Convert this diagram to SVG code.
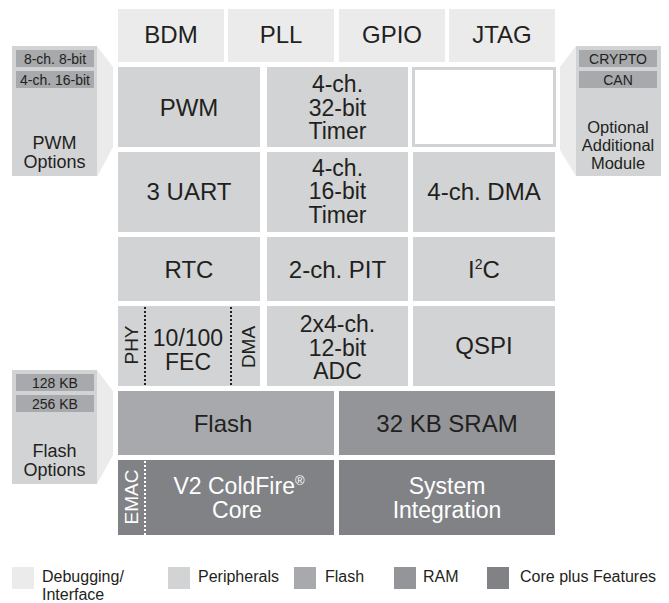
<svg xmlns="http://www.w3.org/2000/svg" width="669" height="603" viewBox="0 0 669 603">
<style>
text{font-family:"Liberation Sans",Arial,sans-serif;fill:#231f20;text-anchor:middle}
.dbg{fill:#ebebec}
.per{fill:#d1d3d4}
.fls{fill:#a7a9ac}
.ram{fill:#939598}
.core{fill:#808285}
.trap{fill:#ebebec}
.big{font-size:24px}
.ml{font-size:23px}
.opt{font-size:14px}
.optl{font-size:18px}
.rot{font-size:19px}
.leg{font-size:16px;text-anchor:start}
.w{fill:#ffffff}
.dotd{stroke:#231f20;stroke-width:2;stroke-dasharray:2 2;fill:none}
.dotw{stroke:#ffffff;stroke-width:2;stroke-dasharray:2 2;fill:none}
</style>
<rect width="669" height="603" fill="#ffffff"/>

<g id="connectors">
<polygon class="trap" points="97,46 113,67 113,147 97,177"/>
<polygon class="trap" points="97,370 113,391 113,455 97,484"/>
<polygon class="trap" points="576,46 560,67 560,150 576,176"/>
</g>

<g id="bdm"><rect class="dbg" x="118" y="9" width="106" height="53"/><text class="big" x="171" y="43">BDM</text></g>
<g id="pll"><rect class="dbg" x="228" y="9" width="106" height="53"/><text class="big" x="281" y="43">PLL</text></g>
<g id="gpio"><rect class="dbg" x="339" y="9" width="106" height="53"/><text class="big" x="392" y="43">GPIO</text></g>
<g id="jtag"><rect class="dbg" x="449" y="9" width="106" height="53"/><text class="big" x="502" y="43">JTAG</text></g>

<g id="pwm"><rect class="per" x="118" y="67" width="142" height="80"/><text class="big" x="189" y="116">PWM</text></g>
<g id="timer32"><rect class="per" x="267" y="67" width="141" height="80"/><text class="ml" x="337.5" y="92">4-ch.</text><text class="ml" x="337.5" y="115.5">32-bit</text><text class="ml" x="337.5" y="139">Timer</text></g>
<g id="optional-slot"><rect x="413.5" y="68.5" width="141" height="77" fill="#ffffff" stroke="#d1d3d4" stroke-width="3"/></g>

<g id="uart"><rect class="per" x="118" y="152" width="142" height="80"/><text class="big" x="189" y="200">3 UART</text></g>
<g id="timer16"><rect class="per" x="267" y="152" width="141" height="80"/><text class="ml" x="337.5" y="175.5">4-ch.</text><text class="ml" x="337.5" y="199">16-bit</text><text class="ml" x="337.5" y="222.5">Timer</text></g>
<g id="dma"><rect class="per" x="413" y="152" width="142" height="80"/><text class="big" x="484" y="200">4-ch. DMA</text></g>

<g id="rtc"><rect class="per" x="118" y="237" width="142" height="64"/><text class="big" x="189" y="278">RTC</text></g>
<g id="pit"><rect class="per" x="267" y="237" width="141" height="64"/><text class="big" x="337.5" y="278">2-ch. PIT</text></g>
<g id="i2c"><rect class="per" x="413" y="237" width="142" height="64"/><text class="big" x="484" y="278">I<tspan font-size="14" dy="-9">2</tspan><tspan dy="9">C</tspan></text></g>

<g id="fec"><rect class="per" x="118" y="306" width="142" height="80"/>
<line class="dotd" x1="145" y1="307" x2="145" y2="385"/>
<line class="dotd" x1="231" y1="307" x2="231" y2="385"/>
<text class="rot" transform="translate(137.5,345) rotate(-90)">PHY</text>
<text class="rot" transform="translate(254.5,347) rotate(-90)">DMA</text>
<text class="ml" x="188" y="346">10/100</text><text class="ml" x="188" y="370">FEC</text></g>
<g id="adc"><rect class="per" x="267" y="306" width="141" height="80"/><text class="ml" x="337.5" y="332">2x4-ch.</text><text class="ml" x="337.5" y="355.5">12-bit</text><text class="ml" x="337.5" y="379">ADC</text></g>
<g id="qspi"><rect class="per" x="413" y="306" width="142" height="80"/><text class="big" x="484" y="354">QSPI</text></g>

<g id="flash"><rect class="fls" x="118" y="391" width="216" height="64"/><text class="big" x="223" y="432">Flash</text></g>
<g id="sram"><rect class="ram" x="339" y="391" width="216" height="64"/><text class="big" x="447" y="432">32 KB SRAM</text></g>

<g id="core"><rect class="core" x="118" y="460" width="216" height="75"/>
<line class="dotw" x1="145" y1="461" x2="145" y2="535"/>
<text class="rot w" transform="translate(137.5,497) rotate(-90)">EMAC</text>
<text class="ml w" x="239" y="494">V2 ColdFire<tspan font-size="13" dy="-9">®</tspan></text><text class="ml w" x="237" y="517.5">Core</text></g>
<g id="sysint"><rect class="core" x="339" y="460" width="216" height="75"/><text class="ml w" x="447" y="494">System</text><text class="ml w" x="447" y="517.5">Integration</text></g>

<g id="pwm-options"><rect class="per" x="12" y="46" width="85" height="130"/>
<rect class="fls" x="16" y="50" width="78" height="17"/><text class="opt" x="55" y="63.5">8-ch. 8-bit</text>
<rect class="fls" x="16" y="71" width="78" height="17"/><text class="opt" x="55" y="84.5">4-ch. 16-bit</text>
<text class="optl" x="54.5" y="149">PWM</text><text class="optl" x="54.5" y="167.5">Options</text></g>

<g id="flash-options"><rect class="per" x="12" y="370" width="85" height="114"/>
<rect class="fls" x="16" y="374" width="78" height="17"/><text class="opt" x="55" y="387.5">128 KB</text>
<rect class="fls" x="16" y="395" width="78" height="17"/><text class="opt" x="55" y="408.5">256 KB</text>
<text class="optl" x="54.5" y="457">Flash</text><text class="optl" x="54.5" y="475.5">Options</text></g>

<g id="optional-module"><rect class="per" x="576" y="46" width="85" height="130"/>
<rect class="fls" x="579" y="50" width="78" height="17"/><text class="opt" x="618" y="63.5" font-size="13.5">CRYPTO</text>
<rect class="fls" x="579" y="71" width="78" height="17"/><text class="opt" x="618" y="84.5" font-size="13.5">CAN</text>
<text x="618" y="133" font-size="16.5">Optional</text><text x="618" y="151" font-size="16.5">Additional</text><text x="618" y="169" font-size="16.5">Module</text></g>

<g id="legend">
<rect class="dbg" x="12" y="567" width="22" height="22"/><text class="leg" x="42" y="582">Debugging/</text><text class="leg" x="42" y="600">Interface</text>
<rect class="per" x="168" y="567" width="22" height="22"/><text class="leg" x="198" y="582">Peripherals</text>
<rect class="fls" x="294" y="567" width="22" height="22"/><text class="leg" x="325" y="582">Flash</text>
<rect class="ram" x="394" y="567" width="22" height="22"/><text class="leg" x="423" y="582">RAM</text>
<rect class="core" x="487" y="567" width="22" height="22"/><text class="leg" x="520" y="582">Core plus Features</text>
</g>
</svg>
